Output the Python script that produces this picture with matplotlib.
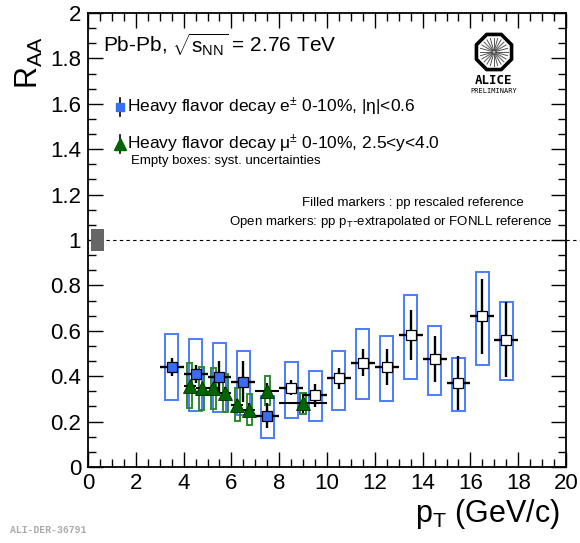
import numpy as np
import matplotlib
matplotlib.use("Agg")
import matplotlib.pyplot as plt
from matplotlib.patches import Rectangle, RegularPolygon, Circle
from matplotlib.ticker import MultipleLocator, FuncFormatter

plt.rcParams['font.family'] = ['Liberation Sans', 'DejaVu Sans']
plt.rcParams['mathtext.fontset'] = 'custom'
plt.rcParams['mathtext.rm'] = 'Liberation Sans'
plt.rcParams['mathtext.it'] = 'Liberation Sans:italic'
plt.rcParams['mathtext.sf'] = 'Liberation Sans'

# Heavy flavour decay electrons, 0-10%, |eta|<0.6
ele_pt = [3.5, 4.5, 5.5, 6.5, 7.5, 8.5, 9.5, 10.5, 11.5, 12.5, 13.5, 14.5, 15.5, 16.5, 17.5]
ele_xerr = [0.5] * 15
ele_raa = [0.44, 0.41, 0.395, 0.375, 0.225, 0.35, 0.315, 0.39, 0.46, 0.44, 0.58, 0.475, 0.37, 0.665, 0.56]
ele_stat = [0.04, 0.04, 0.07, 0.09, 0.055, 0.035, 0.05, 0.045, 0.06, 0.08, 0.11, 0.10, 0.12, 0.165, 0.165]
ele_sys_hi = [0.586, 0.565, 0.548, 0.512, 0.314, 0.464, 0.421, 0.512, 0.607, 0.577, 0.758, 0.62, 0.48, 0.859, 0.726]
ele_sys_lo = [0.295, 0.248, 0.242, 0.228, 0.129, 0.217, 0.201, 0.25, 0.301, 0.289, 0.388, 0.318, 0.247, 0.451, 0.383]
ele_filled = [True] * 5 + [False] * 10

# Heavy flavour decay muons, 0-10%, 2.5<y<4.0
mu_pt = [4.25, 4.75, 5.25, 5.75, 6.25, 6.75, 7.5, 9.0]
mu_xerr = [0.25, 0.25, 0.25, 0.25, 0.25, 0.25, 0.5, 1.0]
mu_raa = [0.357, 0.347, 0.349, 0.327, 0.273, 0.251, 0.335, 0.28]
mu_stat = [0.02, 0.02, 0.02, 0.025, 0.025, 0.03, 0.035, 0.04]
mu_sys_hi = [0.459, 0.439, 0.437, 0.411, 0.347, 0.32, 0.402, 0.327]
mu_sys_lo = [0.259, 0.25, 0.257, 0.241, 0.203, 0.186, 0.272, 0.232]

blue = '#3a6df5'
box_blue = '#4a7cff'
green = '#006400'
box_green = '#2e8b2e'

W, H = 580, 543
fig = plt.figure(figsize=(W / 100, H / 100), dpi=100)
ax = fig.add_axes([88 / W, 1 - 467 / H, (566 - 88) / W, (467 - 13) / H])
ax.set_xlim(0, 20)
ax.set_ylim(0, 2)


def px(x, y):
    return x / W, 1 - y / H


# systematic boxes
for x, lo, hi in zip(ele_pt, ele_sys_lo, ele_sys_hi):
    ax.add_patch(Rectangle((x - 0.27, lo), 0.54, hi - lo, fill=False,
                           ec=box_blue, lw=1.4, zorder=2))
for x, lo, hi in zip(mu_pt, mu_sys_lo, mu_sys_hi):
    ax.add_patch(Rectangle((x - 0.11, lo), 0.22, hi - lo, fill=False,
                           ec=box_green, lw=1.4, zorder=3))

# stat errors
ax.errorbar(ele_pt, ele_raa, xerr=ele_xerr, yerr=ele_stat, fmt='none',
            ecolor='black', elinewidth=1.7, capsize=0, zorder=4)
ax.errorbar(mu_pt, mu_raa, xerr=mu_xerr, yerr=mu_stat, fmt='none',
            ecolor='black', elinewidth=1.5, capsize=0, zorder=4)

# markers
ef = np.array(ele_filled)
ep = np.array(ele_pt)
er = np.array(ele_raa)
ax.plot(ep[ef], er[ef], 's', ms=7, mfc=blue, mec='black', mew=0.9, ls='none', zorder=6)
ax.plot(ep[~ef], er[~ef], 's', ms=7, mfc='white', mec='black', mew=0.9, ls='none', zorder=6)
ax.plot(mu_pt, mu_raa, '^', ms=9.5, mfc=green, mec='#003000', mew=0.6, ls='none', zorder=5)

# normalisation uncertainty box and unity line
ax.add_patch(Rectangle((0.13, 0.95), 0.54, 0.1, fc='#666666', ec='none', zorder=3))
ax.plot([0.75, 20.7], [1, 1], ls=(0, (3, 3)), color='black', lw=0.8, clip_on=False, zorder=3)

# ROOT style axes
ax.xaxis.set_major_locator(MultipleLocator(2))
ax.xaxis.set_minor_locator(MultipleLocator(0.5))
ax.yaxis.set_major_locator(MultipleLocator(0.2))
ax.yaxis.set_minor_locator(MultipleLocator(0.2 / 3))
ax.yaxis.set_major_formatter(FuncFormatter(lambda v, p: '%g' % round(v, 2)))
ax.tick_params(which='both', direction='in', top=True, right=True, width=1.0, labelsize=16)
ax.tick_params(which='major', length=11)
ax.tick_params(which='minor', length=5.5)
ax.tick_params(axis='x', pad=4)
ax.tick_params(axis='y', pad=5)
for s in ax.spines.values():
    s.set_linewidth(1.3)

fig.text(*px(14, 36), r'R$_{\mathrm{AA}}$', rotation=90, fontsize=22, ha='left', va='top')
fig.text(*px(560, 514), r'p$_{\mathrm{T}}$ (GeV/c)', fontsize=22, ha='right', va='center')

# texts
fig.text(*px(103, 45), r'Pb-Pb, $\sqrt{\mathrm{s}_{\mathrm{NN}}}$ = 2.76 TeV', fontsize=15, va='center')
fig.text(*px(127, 107), 'Heavy flavor decay e$^{\\pm}$ 0-10%, |η|<0.6', fontsize=12.5, va='center')
fig.text(*px(127, 144), 'Heavy flavor decay μ$^{\\pm}$ 0-10%, 2.5<y<4.0', fontsize=12.5, va='center')
fig.text(*px(131, 161), 'Empty boxes: syst. uncertainties', fontsize=9.5, va='center')
fig.text(*px(413, 203), 'Filled markers : pp rescaled reference', fontsize=9.5, ha='center', va='center')
fig.text(*px(552, 222), r'Open markers: pp p$_{\mathrm{T}}$-extrapolated or FONLL reference',
         fontsize=9.5, ha='right', va='center')
fig.text(*px(10, 530), 'ALI-DER-36791', fontsize=7, family='Liberation Mono',
         weight='bold', color='#aaaaaa', va='center')

# legend markers
lx, ly = px(120, 107)
fig.lines.append(plt.Line2D([lx, lx], [ly - 0.016, ly + 0.016], color='black', lw=1.2,
                            transform=fig.transFigure, figure=fig))
fig.lines.append(plt.Line2D([lx], [ly], marker='s', ms=6, mfc=blue, mec=blue,
                            transform=fig.transFigure, figure=fig))
lx, ly = px(120, 144)
fig.lines.append(plt.Line2D([lx, lx], [ly - 0.016, ly + 0.016], color='black', lw=1.2,
                            transform=fig.transFigure, figure=fig))
fig.lines.append(plt.Line2D([lx], [ly], marker='^', ms=8, mfc=green, mec=green,
                            transform=fig.transFigure, figure=fig))

# ALICE logo
lax = fig.add_axes([468 / W, 1 - 100 / H, 52 / W, 72 / H])
lax.set_xlim(-26, 26)
lax.set_ylim(-48, 24)
lax.set_aspect('equal')
lax.axis('off')
lax.add_patch(RegularPolygon((0, 0), numVertices=8, radius=19, orientation=np.pi / 8,
                             fc='white', ec='black', lw=2.6))
for a in np.linspace(0, 2 * np.pi, 24, endpoint=False):
    lax.plot([2 * np.cos(a), 14 * np.cos(a)], [2 * np.sin(a), 14 * np.sin(a)],
             color='#555555', lw=0.7)
lax.add_patch(Circle((0, 0), 3, fc='#aaaaaa', ec='none'))
lax.text(0, -28, 'ALICE', fontsize=9, weight='bold', ha='center', va='center',
         family='DejaVu Sans Mono')
lax.text(0, -39, 'PRELIMINARY', fontsize=5, ha='center', va='center',
         family='DejaVu Sans Mono')

fig.savefig('out.png', dpi=100)
